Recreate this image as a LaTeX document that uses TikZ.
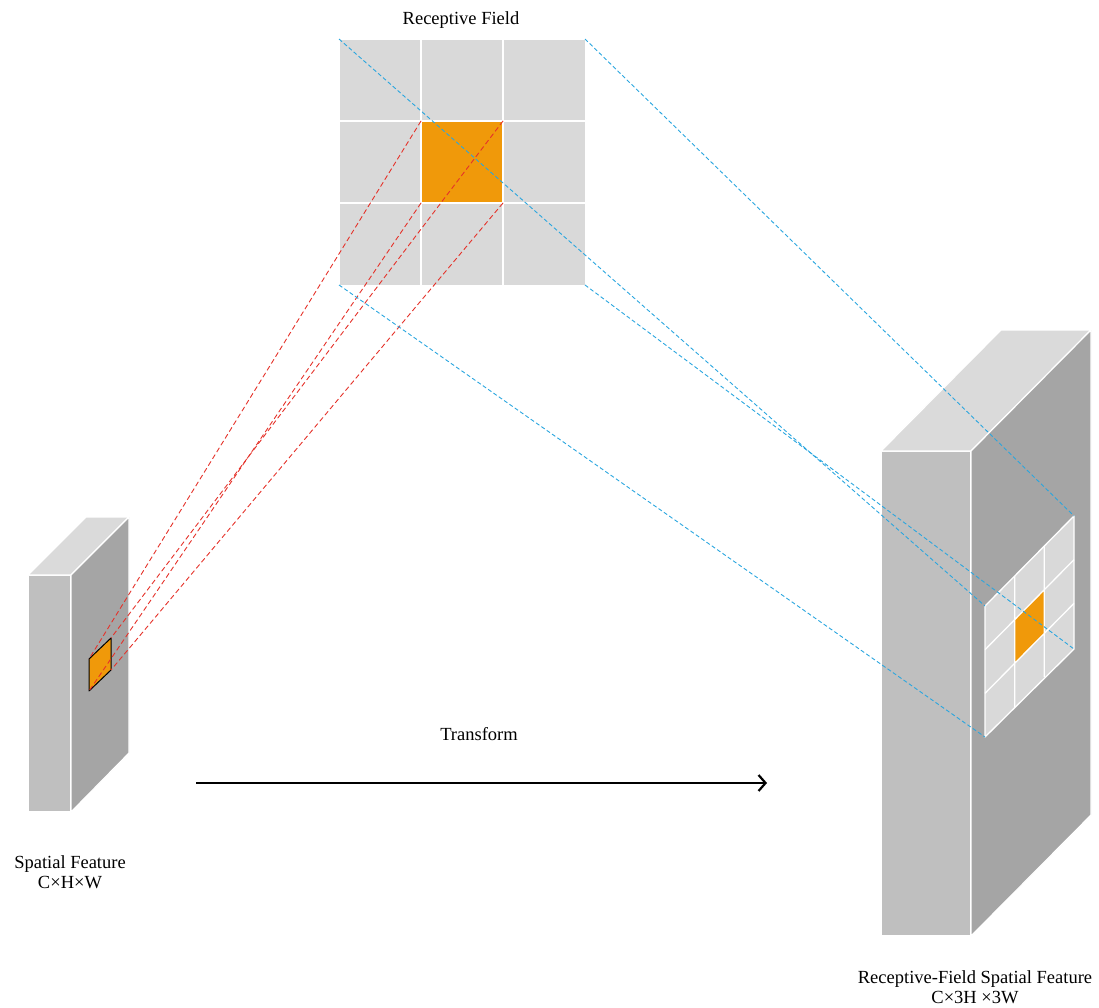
\documentclass[tikz,border=0pt]{standalone}
\usepackage{fontspec}
\setmainfont{Liberation Serif}
\usetikzlibrary{arrows.meta}

\definecolor{cellgray}{HTML}{D9D9D9}
\definecolor{frontgray}{HTML}{BFBFBF}
\definecolor{topgray}{HTML}{DADADA}
\definecolor{sidegray}{HTML}{A5A5A5}
\definecolor{patchorange}{HTML}{F0990A}
\definecolor{linkblue}{HTML}{2AA6DF}
\definecolor{linkred}{HTML}{E5322A}

\tikzset{
  gridline/.style={white, line width=1.6pt},
  face/.style={draw=white, line width=1.2pt, line join=round},
  bluelink/.style={linkblue, line width=0.9pt, dash pattern=on 4pt off 2.5pt},
  redlink/.style={linkred, line width=0.9pt, dash pattern=on 5pt off 3pt},
  label/.style={font=\fontsize{18.5}{20}\selectfont, align=center, inner sep=0pt},
}

\begin{document}
\begin{tikzpicture}[x=1pt, y=-1pt]
\useasboundingbox (0,0) rectangle (1099,1008);

% ---- receptive field: 3x3 cells, centre highlighted
\fill[cellgray] (339,39) rectangle (585,285);
\fill[patchorange] (421,121) rectangle (503,203);
\draw[gridline] (421,39) -- (421,285) (503,39) -- (503,285)
                (339,121) -- (585,121) (339,203) -- (585,203);
\draw[white, line width=0.8pt] (339,39) rectangle (585,285);
\coordinate (rf-tl) at (339,39);
\coordinate (rf-tr) at (585,39);
\coordinate (rf-bl) at (339,285);
\coordinate (rf-br) at (585,285);
\coordinate (c-tl) at (421,121);
\coordinate (c-tr) at (503,121);
\coordinate (c-bl) at (421,203);
\coordinate (c-br) at (503,203);

% ---- spatial feature block (C x H x W)
\filldraw[face, fill=frontgray] (28,575) rectangle (71,812);
\filldraw[face, fill=topgray] (28,575) -- (86,517) -- (129,517) -- (71,575) -- cycle;
\filldraw[face, fill=sidegray] (71,575) -- (129,517) -- (129,753) -- (71,812) -- cycle;
\coordinate (p-tl) at (89,659);
\coordinate (p-tr) at (111,638);
\coordinate (p-br) at (111,670);
\coordinate (p-bl) at (89,691);
\filldraw[fill=patchorange, draw=black, line width=1pt, line join=round]
  (p-tl) -- (p-tr) -- (p-br) -- (p-bl) -- cycle;

% ---- receptive-field spatial feature block (C x 3H x 3W)
\filldraw[face, fill=frontgray] (881,451) rectangle (971,936);
\filldraw[face, fill=topgray] (881,451) -- (1001,330) -- (1091,330) -- (971,451) -- cycle;
\filldraw[face, fill=sidegray] (971,451) -- (1091,330) -- (1091,815) -- (971,936) -- cycle;
\coordinate (g-tl) at (985,606);
\coordinate (g-tr) at (1074,516);
\coordinate (g-br) at (1074,649);
\coordinate (g-bl) at (985,737);
\fill[cellgray] (g-tl) -- (g-tr) -- (g-br) -- (g-bl) -- cycle;
\fill[patchorange] (1014.67,619.67) -- (1044.33,589.67) -- (1044.33,633.33) -- (1014.67,663.33) -- cycle;
\draw[white, line width=1.3pt]
  (1014.67,576) -- (1014.67,707) (1044.33,546) -- (1044.33,677)
  (985,649.67) -- (1074,559.67) (985,693.33) -- (1074,603.33);
\draw[white, line width=1.3pt, line join=round] (g-tl) -- (g-tr) -- (g-br) -- (g-bl) -- cycle;

% ---- projections of the receptive field
\draw[redlink] (c-tl) -- (p-tl);
\draw[redlink] (c-tr) -- (p-tr);
\draw[redlink] (c-br) -- (p-br);
\draw[redlink] (c-bl) -- (p-bl);
\draw[bluelink] (rf-tl) -- (g-tl);
\draw[bluelink] (rf-tr) -- (g-tr);
\draw[bluelink] (rf-br) -- (g-br);
\draw[bluelink] (rf-bl) -- (g-bl);

% ---- transform arrow
\coordinate (tf-start) at (196,783);
\coordinate (tf-end) at (767,783);
\draw[line width=2.2pt, -{Straight Barb[length=7pt, width=16pt]}] (tf-start) -- (tf-end);

% ---- labels
\node[label] (rf-label) at (461,20) {Receptive Field};
\node[label] (tf-label) at (479,734) {Transform};
\node[label] (sf-label) at (70,872) {Spatial Feature\\C×H×W};
\node[label] (rfsf-label) at (975,987) {Receptive-Field Spatial Feature\\C×3H ×3W};
\end{tikzpicture}
\end{document}
